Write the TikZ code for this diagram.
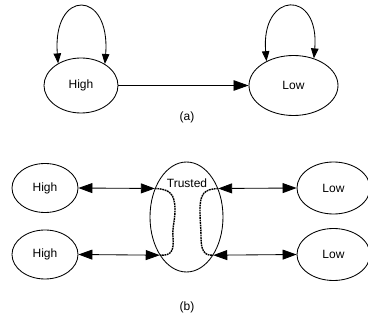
\documentclass[tikz,border=0pt]{standalone}
\usepackage{fontspec}
\setmainfont{Liberation Sans}
\usetikzlibrary{shapes.geometric,arrows.meta}

\begin{document}
\begin{tikzpicture}[x=1pt, y=1pt, font=\fontsize{12}{14}\selectfont,
        state/.style={draw, ellipse, line width=0.85pt, inner sep=0pt},
        link/.style={line width=0.85pt, {Triangle[length=14pt,width=10pt]}-{Triangle[length=14pt,width=10pt]}},
        onelink/.style={line width=0.85pt, -{Triangle[length=15pt,width=10.5pt]}},
        selfloop/.style={line width=0.85pt, {Triangle[length=10pt,width=7.5pt]}-{Triangle[length=10pt,width=7.5pt]}},
        channel/.style={line width=1.4pt, dash pattern=on 1.8pt off 0.7pt}]
        \useasboundingbox (0, 0) rectangle (368, 322);

        % (a) two states
        \node[state, minimum width=74, minimum height=55] (highA) at (81, 236.5) {High};
        \node[state, minimum width=89, minimum height=60] (lowA) at (293.5, 236.5) {Low};
        \draw[onelink] (highA.east) -- (lowA.west);
        \draw[selfloop] (highA.136) .. controls +(-6, 75) and +(6, 75) .. (highA.42);
        \draw[selfloop] (lowA.138) .. controls +(-6, 70) and +(6, 70) .. (lowA.53);
        \node (capA) at (187, 205) {(a)};

        % (b) High side
        \node[state, minimum width=66, minimum height=49] (highB) at (45, 134) {High};
        \node[state, minimum width=66, minimum height=49] (highC) at (45, 67.5) {High};

        % (b) Trusted
        \node[state, minimum width=73, minimum height=110] (trusted) at (186.5, 105) {};
        \node (trustedname) at (187, 139) {Trusted};

        % (b) Low side
        \node[state, minimum width=73, minimum height=52] (lowB) at (333.5, 134) {Low};
        \node[state, minimum width=73, minimum height=52] (lowC) at (333.5, 67.5) {Low};

        % links into Trusted
        \draw[link] (highB.east) -- (trusted.138);
        \draw[link] (highC.east) -- (trusted.235);
        \draw[link] (trusted.42) -- (lowB.west);
        \draw[link] (trusted.305) -- (lowC.west);

        % channels inside Trusted
        \draw[channel] (trusted.138) .. controls (170, 133) and (175, 128) .. (175, 112)
            .. controls (175, 100) and (172, 95) .. (173, 85)
            .. controls (174, 72) and (172, 66) .. (trusted.235);
        \draw[channel] (trusted.42) .. controls (204, 133) and (200, 128) .. (200, 112)
            .. controls (200, 100) and (201, 95) .. (201, 85)
            .. controls (201, 72) and (204, 66) .. (trusted.305);

        \node (capB) at (187, 15) {(b)};
    \end{tikzpicture}
\end{document}
